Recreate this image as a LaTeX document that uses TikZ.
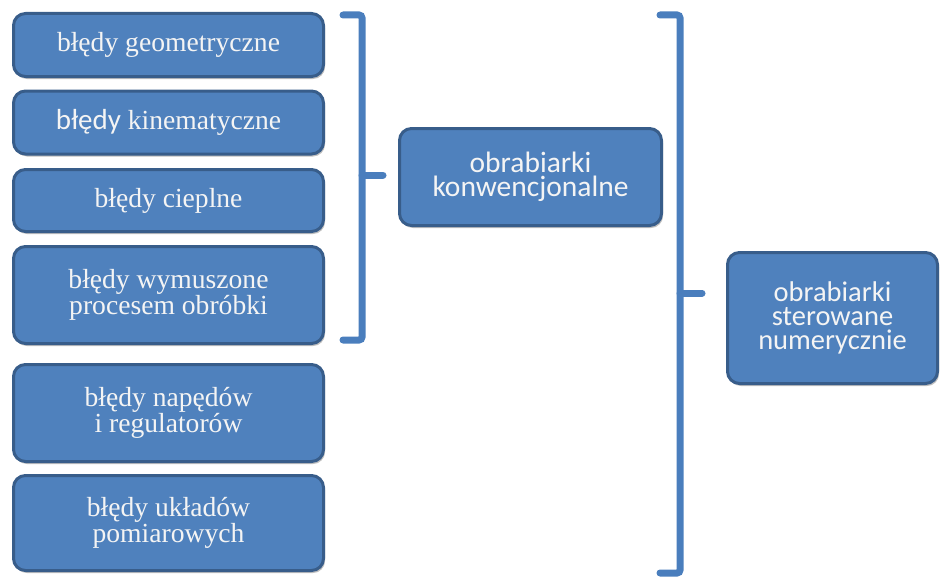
\documentclass[tikz,border=0pt]{standalone}
\usepackage{fontspec}
\setmainfont{Liberation Serif}
\newfontfamily\calibrifont{Carlito}
\usetikzlibrary{shadows}
\definecolor{boxfill}{HTML}{4F81BD}
\definecolor{boxline}{HTML}{385D8A}
\definecolor{boxtext}{HTML}{F4F4F4}
\definecolor{bracecol}{HTML}{4A7EBD}
\begin{document}
\begin{tikzpicture}[x=1pt,y=-1pt,
  box/.style={draw=boxline, line width=3pt, fill=boxfill, rounded corners=12pt,
    text=boxtext, align=center, inner sep=0pt,
    drop shadow={shadow xshift=1.5pt, shadow yshift=-2.5pt, opacity=0.25, fill=black}},
  errbox/.style={box, minimum width=310pt, font=\fontsize{27.6}{24}\selectfont},
  cbox/.style={box, font=\calibrifont\fontsize{29.5}{24}\selectfont},
  bracket/.style={draw=bracecol, line width=7pt, rounded corners=3pt, line cap=round}]
\useasboundingbox (0,0) rectangle (941,578);
\node[errbox, minimum height=63pt] (b1) at (168.5,45) {błędy geometryczne};
\node[errbox, minimum height=63pt] (b2) at (168.5,122.5) {{\calibrifont\fontsize{29}{23}\selectfont błędy} kinematyczne};
\node[errbox, minimum height=62pt] (b3) at (168.5,200.5) {błędy cieplne};
\node[errbox, minimum height=97pt] (b4) at (168.5,295) {błędy wymuszone\\procesem obróbki};
\node[errbox, minimum height=97pt] (b5) at (168.5,413) {błędy napędów\\i regulatorów};
\node[errbox, minimum height=95pt] (b6) at (168.5,523) {błędy układów\\pomiarowych};
\node[cbox, minimum width=262pt, minimum height=97pt] (mid) at (530.5,177) {obrabiarki\\konwencjonalne};
\node[cbox, minimum width=210pt, minimum height=131pt, font=\calibrifont\fontsize{28.5}{24}\selectfont] (cnc) at (832.5,318) {obrabiarki\\sterowane\\numerycznie};
% first bracket
\coordinate (t1) at (343,15);
\coordinate (e1) at (343,340);
\coordinate (m1) at (362,175);
\coordinate (p1) at (383,175);
\draw[bracket] (t1) -- (362,15) -- (362,340) -- (e1);
\draw[bracket, rounded corners=0pt] (m1) -- (p1);
% second bracket
\coordinate (t2) at (660,15);
\coordinate (e2) at (660,573);
\coordinate (m2) at (680,293);
\coordinate (p2) at (702,293);
\draw[bracket] (t2) -- (680,15) -- (680,573) -- (e2);
\draw[bracket, rounded corners=0pt] (m2) -- (p2);
\end{tikzpicture}
\end{document}
